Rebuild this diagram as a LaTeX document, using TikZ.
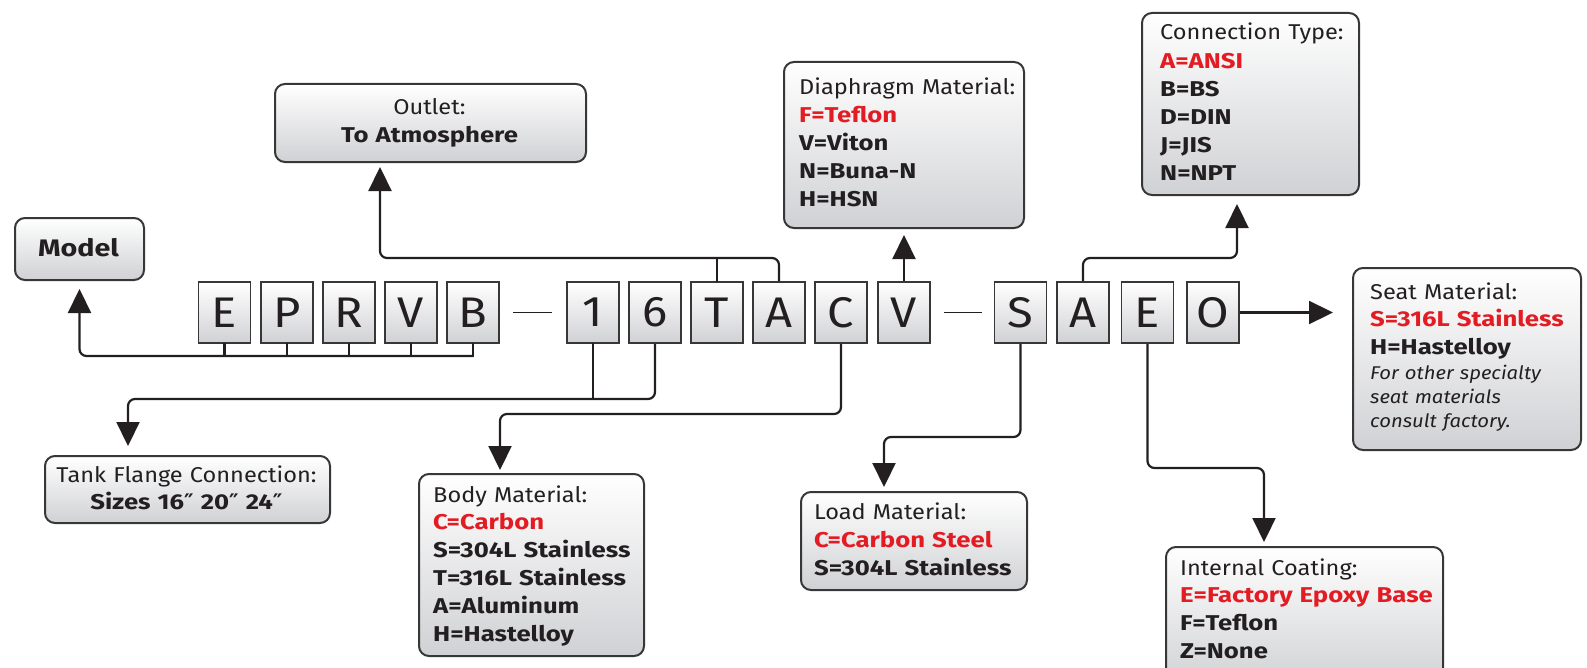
\documentclass[tikz,border=0pt]{standalone}
\usepackage{fontspec}
\setmainfont{Fira Sans}[FakeStretch=1.1, BoldFeatures={FakeStretch=1.2}]
\newfontfamily\symfont{DejaVu Sans}
\usetikzlibrary{arrows.meta,calc}
\definecolor{hired}{RGB}{227,27,35}
\definecolor{ink}{RGB}{35,31,32}
\definecolor{boxline}{RGB}{55,55,55}
\definecolor{boxbot}{RGB}{208,209,212}
\tikzset{
  lbox/.style={draw=boxline, line width=2bp, rounded corners=10bp, top color=white,
    bottom color=boxbot, anchor=north west, inner sep=0pt},
  letter/.style={draw=boxline, line width=1.8bp, top color=white, bottom color=boxbot,
    minimum width=52bp, minimum height=61bp, inner sep=0pt,
    font=\fontsize{43}{43}\selectfont, text=ink},
  txt/.style={anchor=base west, inner sep=0pt, align=left, text width=300bp,
    font=\fontsize{21.5}{28}\selectfont, text=ink},
  ctxt/.style={anchor=base, inner sep=0pt, align=center, text width=300bp,
    font=\fontsize{21.5}{28}\selectfont, text=ink},
  conn/.style={line width=2.2bp, draw=ink, line cap=rect},
  arr/.style={line width=2.2bp, draw=ink, rounded corners=7bp,
    -{Triangle[length=24bp,width=23bp]}},
  dashln/.style={line width=1.8bp, draw=ink}
}
\newcommand{\rb}[1]{\textcolor{hired}{\bfseries #1}}
\newcommand{\inch}{{\symfont\bfseries ″}}
\begin{document}
\begin{tikzpicture}[x=1bp,y=-1bp]
\clip (0,0) rectangle (1587,668);
% label boxes
\node[lbox, minimum width=129bp, minimum height=62bp] (model) at (14,217) {};
\node[anchor=base, inner sep=0pt, font=\fontsize{24}{30}\selectfont\bfseries, text=ink] (modelT) at (78.5,256.5) {Model};
\node[lbox, minimum width=311bp, minimum height=78bp] (outlet) at (274,83) {};
\node[ctxt] (outletT) at (429.5,115) {Outlet:\\\textbf{To Atmosphere}};
\node[lbox, minimum width=285bp, minimum height=67bp] (tank) at (44,455) {};
\node[ctxt] (tankT) at (186.5,482) {Tank Flange Connection:\\\textbf{Sizes 16\inch{} 20\inch{} 24\inch}};
\node[lbox, minimum width=225bp, minimum height=182bp] (body) at (418,473) {};
\node[txt] (bodyT) at (433,502) {Body Material:\\\rb{C=Carbon}\\\textbf{S=304L Stainless}\\\textbf{T=316L Stainless}\\\textbf{A=Aluminum}\\\textbf{H=Hastelloy}};
\node[lbox, minimum width=240bp, minimum height=166bp] (diaph) at (783,61) {};
\node[txt] (diaphT) at (799,95) {Diaphragm Material:\\\rb{F=Teflon}\\\textbf{V=Viton}\\\textbf{N=Buna-N}\\\textbf{H=HSN}};
\node[lbox, minimum width=217bp, minimum height=182bp] (ctype) at (1141,12) {};
\node[txt, font=\fontsize{21.5}{28.2}\selectfont] (ctypeT) at (1160,40) {Connection Type:\\\rb{A=ANSI}\\\textbf{B=BS}\\\textbf{D=DIN}\\\textbf{J=JIS}\\\textbf{N=NPT}};
\node[lbox, minimum width=228bp, minimum height=182bp] (seat) at (1352,267) {};
\node[txt] (seatT) at (1370,299) {Seat Material:\\\rb{S=316L Stainless}\\\textbf{H=Hastelloy}};
\node[txt, font=\fontsize{18.5}{24.5}\selectfont\itshape] (seatN) at (1370,379) {For other specialty\\seat materials\\consult factory.};
\node[lbox, minimum width=226bp, minimum height=98bp] (load) at (800,491) {};
\node[txt, font=\fontsize{21.5}{28.5}\selectfont] (loadT) at (814,519) {Load Material:\\\rb{C=Carbon Steel}\\\textbf{S=304L Stainless}};
\node[lbox, minimum width=277bp, minimum height=140bp] (coat) at (1165,546) {};
\node[txt] (coatT) at (1180,575) {Internal Coating:\\\rb{E=Factory Epoxy Base}\\\textbf{F=Teflon}\\\textbf{Z=None}};
% letter boxes
\node[letter] (l1) at (224.5,312.5) {E};
\node[letter] (l2) at (287,312.5) {P};
\node[letter] (l3) at (349,312.5) {R};
\node[letter] (l4) at (411,312.5) {V};
\node[letter] (l5) at (473,312.5) {B};
\node[letter] (l6) at (593,312.5) {1};
\node[letter] (l7) at (655,312.5) {6};
\node[letter] (l8) at (717,312.5) {T};
\node[letter] (l9) at (779,312.5) {A};
\node[letter] (l10) at (841,312.5) {C};
\node[letter] (l11) at (904,312.5) {V};
\node[letter] (l12) at (1020.5,312.5) {S};
\node[letter] (l13) at (1083,312.5) {A};
\node[letter] (l14) at (1147.5,312.5) {E};
\node[letter] (l15) at (1213,312.5) {O};
% dashes
\draw[dashln] ($(l5.east)+(13,0)$) -- ($(l6.west)+(-14,0)$);
\draw[dashln] ($(l11.east)+(13,0)$) -- ($(l12.west)+(-12,0)$);
% connectors
\coordinate (busA) at (473,356);
\foreach \n in {l1,l2,l3,l4,l5} \draw[conn] (\n.south) -- (\n.south |- busA);
\draw[arr, shorten >=8bp] (busA) -| (model.south);
\coordinate (outA) at (380,258);
\draw[conn] (l8.north) -- (l8.north |- outA);
\draw[arr, shorten >=4bp] (l9.north) |- (outA) -- (outA |- outlet.south);
\draw[arr, shorten >=6bp] (l11.north) -- (l11.north |- diaph.south);
\coordinate (cA) at (1237,258);
\draw[arr, shorten >=8bp] (l13.north) |- (cA) -- (cA |- ctype.south);
\draw[arr, shorten >=19bp] (l15.east) -- (l15.east -| seat.west);
\coordinate (tk) at (128,399);
\draw[conn] (l6.south) -- (l6.south |- tk);
\draw[arr, shorten >=9bp] (l7.south) |- (tk) -- (tk |- tank.north);
\coordinate (bd) at (500,414);
\draw[arr, shorten >=3bp] (l10.south) |- (bd) -- (bd |- body.north);
\coordinate (ld) at (884,437);
\draw[arr, shorten >=4bp] (l12.south) |- (ld) -- (ld |- load.north);
\coordinate (ic) at (1264,468);
\draw[arr, shorten >=4bp] (l14.south) |- (ic) -- (ic |- coat.north);
\end{tikzpicture}
\end{document}
